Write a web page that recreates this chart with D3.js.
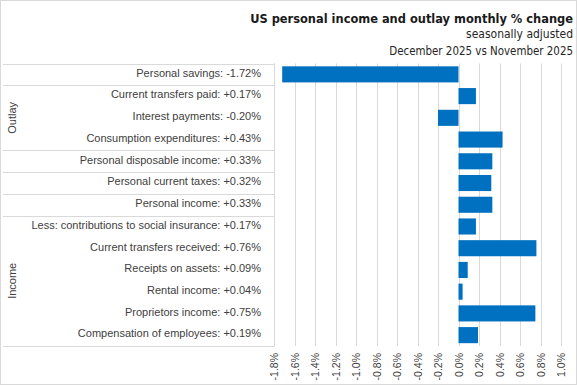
<!DOCTYPE html>
<html>
<head>
<meta charset="utf-8">
<script src="https://cdn.jsdelivr.net/npm/d3@7"></script>
<style>
  body { margin: 0; background: #fff; }
  svg text { font-family: "Liberation Sans", Arial, sans-serif; }
</style>
</head>
<body>
<div id="con"></div>
<script>
// rows, top to bottom as in the chart
var names = ['Personal savings', 'Current transfers paid', 'Interest payments', 'Consumption expenditures',
  'Personal disposable income', 'Personal current taxes', 'Personal income',
  'Less: contributions to social insurance', 'Current transfers received', 'Receipts on assets',
  'Rental income', 'Proprietors income', 'Compensation of employees'];
var values = [-1.72, 0.17, -0.20, 0.43, 0.33, 0.32, 0.33, 0.17, 0.76, 0.09, 0.04, 0.75, 0.19];

// group labels on the outer category level (first row index, last row index)
var groupNames = ['Outlay', 'Income'];
var groupFirst = [1, 7];
var groupLast = [3, 12];

var tickValues = [-1.8, -1.6, -1.4, -1.2, -1.0, -0.8, -0.6, -0.4, -0.2, 0, 0.2, 0.4, 0.6, 0.8, 1.0];

var width = 577, height = 385;
var grid = '#d9d9d9';

var svg = d3.select('#con').append('svg')
  .attr('width', width).attr('height', height);

// outer chart border
svg.append('rect')
  .attr('x', 0.5).attr('y', 0.5)
  .attr('width', width - 1).attr('height', height - 1)
  .attr('fill', '#fff').attr('stroke', grid);

var top0 = 63.5, bottom0 = 346;
var x = d3.scaleLinear().domain([-1.8, 1.0]).range([274, 561]);
var y = d3.scaleBand().domain(names).range([top0, bottom0])
  .paddingInner(0.26).paddingOuter(0.13);

var fmt = function (v) {
  return (v > 0 ? '+' : v < 0 ? '-' : '') + Math.abs(v).toFixed(2) + '%';
};

// vertical gridlines
svg.append('g').selectAll('line')
  .data(tickValues).enter().append('line')
  .attr('x1', d => Math.round(x(d)) + 0.5).attr('x2', d => Math.round(x(d)) + 0.5)
  .attr('y1', top0).attr('y2', bottom0)
  .attr('stroke', grid);

// tick labels, rotated
svg.append('g').selectAll('text')
  .data(tickValues).enter().append('text')
  .attr('transform', d => 'translate(' + (x(d) + 4) + ',353) rotate(-90)')
  .attr('text-anchor', 'end')
  .style('font-size', '10.5px')
  .attr('fill', '#404040')
  .text(d => (d < 0 ? '-' : '') + Math.abs(d).toFixed(1) + '%');

// category label box: separators between rows / groups
var stepY = y.step();
var boundaries = [0, 1, 4, 5, 6, 7, 13];
svg.append('g').selectAll('line')
  .data(boundaries).enter().append('line')
  .attr('x1', 3).attr('x2', 274)
  .attr('y1', d => Math.round(top0 + d * stepY) + 0.5)
  .attr('y2', d => Math.round(top0 + d * stepY) + 0.5)
  .attr('stroke', grid);
svg.append('line')
  .attr('x1', 274.5).attr('x2', 274.5)
  .attr('y1', top0).attr('y2', bottom0 + 0.5)
  .attr('stroke', grid);

// bars
svg.append('g').selectAll('rect')
  .data(values).enter().append('rect')
  .attr('x', d => x(Math.min(0, d)))
  .attr('width', d => Math.abs(x(d) - x(0)))
  .attr('y', (d, i) => y(names[i]))
  .attr('height', y.bandwidth())
  .attr('fill', '#0070c0');

// category labels
svg.append('g').selectAll('text')
  .data(names).enter().append('text')
  .attr('x', 261)
  .attr('y', d => y(d) + y.bandwidth() / 2 - 1.5)
  .attr('dy', '0.35em')
  .attr('text-anchor', 'end')
  .style('font-size', '11px')
  .attr('fill', '#404040')
  .text((d, i) => d + ': ' + fmt(values[i]));

// group labels
svg.append('g').selectAll('text')
  .data(groupNames).enter().append('text')
  .attr('transform', (d, i) => {
    var cy = (y(names[groupFirst[i]]) + y(names[groupLast[i]]) + y.bandwidth()) / 2;
    return 'translate(12,' + cy + ') rotate(-90)';
  })
  .attr('dy', '0.35em')
  .attr('text-anchor', 'middle')
  .style('font-size', '11px')
  .attr('fill', '#404040')
  .text(d => d);

// titles: pick font size so the width matches the reference
var cond = '"DejaVu Sans Condensed", "Liberation Sans Narrow", "Roboto", sans-serif';
function fitText(txt, yPos, size, weight, color, target) {
  var t = svg.append('text')
    .attr('x', 573).attr('y', yPos)
    .attr('text-anchor', 'end')
    .style('font-family', cond)
    .style('font-size', size + 'px').style('font-weight', weight)
    .attr('fill', color)
    .text(txt);
  var w = t.node().getComputedTextLength();
  var s = Math.min(size * 1.15, size * target / w);
  t.style('font-size', s.toFixed(2) + 'px');
  return t;
}
fitText('US personal income and outlay monthly % change', 23, 15, 'bold', '#1a1a1a', 323);
fitText('seasonally adjusted', 38, 12.5, 'normal', '#262626', 107);
fitText('December 2025 vs November 2025', 55, 12.5, 'normal', '#262626', 184);
</script>
</body>
</html>
